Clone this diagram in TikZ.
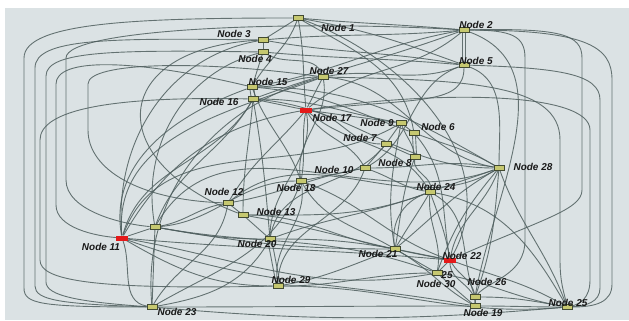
\documentclass[tikz,border=0pt]{standalone}
\usepackage{fontspec}
\setmainfont{Liberation Sans}
\usetikzlibrary{shapes.geometric}
\definecolor{bgc}{RGB}{219,226,228}
\definecolor{edgec}{RGB}{78,94,94}
\definecolor{boxfill}{RGB}{198,200,112}
\definecolor{boxline}{RGB}{66,74,50}
\definecolor{hot}{RGB}{228,26,26}
\pgfdeclarelayer{bg}
\pgfdeclarelayer{wires}
\pgfsetlayers{bg,wires,main}
\tikzset{
  box/.style={draw=boxline, fill=boxfill, line width=0.6bp, minimum width=10bp,
    minimum height=4.5bp, inner sep=0pt},
  hotnode/.style={trapezium, trapezium stretches body, shape border rotate=180,
    trapezium angle=60, fill=hot, minimum width=12bp, minimum height=5bp, inner sep=0pt},
  lab/.style={font=\fontsize{10}{10}\selectfont\bfseries\itshape, inner sep=0pt, text=black!90},
  ed/.style={draw=edgec, line width=0.9bp, opacity=0.85},
}
\begin{document}
\begin{tikzpicture}[x=1bp,y=1bp]
\useasboundingbox (0,0) rectangle (629,320);
\begin{pgfonlayer}{bg}
  \fill[white] (0,0) rectangle (629,320);
  \fill[bgc] (5,0) rectangle (629,312);
\end{pgfonlayer}

% vertices
\node[box] (n1) at (298,302) {};
\node[box] (n2) at (464,290) {};
\node[box] (n3) at (263,280) {};
\node[box] (n4) at (263,268) {};
\node[box] (n5) at (464,255) {};
\node[box] (n27) at (323,243) {};
\node[box] (n15) at (252,233) {};
\node[box] (n16) at (253,221) {};
\node[hotnode] (n17) at (306,210) {};
\node[box] (n9) at (401,197) {};
\node[box] (n6) at (414,187) {};
\node[box] (n7) at (386,176) {};
\node[box] (n8) at (415,163) {};
\node[box] (n10) at (365,152) {};
\node[box] (n28) at (499,152) {};
\node[box] (n18) at (301,139) {};
\node[box] (n24) at (430,128) {};
\node[box] (n12) at (228,117) {};
\node[box] (n13) at (243,105) {};
\node[box] (n14) at (155,93) {};
\node[hotnode] (n11) at (122,82) {};
\node[box] (n20) at (270,81) {};
\node[box] (n21) at (395,71) {};
\node[hotnode] (n22) at (450,60) {};
\node[box] (n30) at (437,47) {};
\node[box] (n26) at (475,23) {};
\node[box] (n19) at (475,14) {};
\node[box] (n29) at (278,34) {};
\node[box] (n23) at (152,13) {};
\node[box] (n25) at (567,13) {};

% vertex labels
\node[lab] (t1) at (338,292) {Node 1};
\node[lab] (t2) at (476,295) {Node 2};
\node[lab] (t3) at (234,286) {Node 3};
\node[lab] (t4) at (255,261) {Node 4};
\node[lab] (t5) at (476,259) {Node 5};
\node[lab] (t27) at (329,249) {Node 27};
\node[lab] (t15) at (268,238) {Node 15};
\node[lab] (t16) at (219,218) {Node 16};
\node[lab] (t17) at (332,202) {Node 17};
\node[lab] (t9) at (377,197) {Node 9};
\node[lab] (t6) at (438,193) {Node 6};
\node[lab] (t7) at (360,182) {Node 7};
\node[lab] (t8) at (395,157) {Node 8};
\node[lab] (t10) at (334,150) {Node 10};
\node[lab] (t28) at (533,153) {Node 28};
\node[lab] (t18) at (296,132) {Node 18};
\node[lab] (t24) at (436,133) {Node 24};
\node[lab] (t12) at (224,128) {Node 12};
\node[lab] (t13) at (276,108) {Node 13};
\node[lab] (t11) at (101,73) {Node 11};
\node[lab] (t20) at (257,76) {Node 20};
\node[lab] (t21) at (378,66) {Node 21};
\node[lab] (t22) at (462,64) {Node 22};
\node[lab] (t35) at (447,45) {25};
\node[lab] (t30) at (436,36) {Node 30};
\node[lab] (t26) at (487,38) {Node 26};
\node[lab] (t29) at (291,40) {Node 29};
\node[lab] (t19) at (483,7) {Node 19};
\node[lab] (t23) at (177,8) {Node 23};
\node[lab] (t25) at (568,17) {Node 25};

\begin{pgfonlayer}{wires}
% outer routes, left side
\draw[ed] (n1) .. controls (140,302) and (24,298) .. (24,262) -- (24,32) .. controls (24,16) and (40,13) .. (n23);
\draw[ed] (n3) .. controls (110,282) and (35,282) .. (35,252) -- (35,34) .. controls (35,20) and (60,16) .. (n23);
\draw[ed] (n4) .. controls (120,270) and (46,270) .. (46,244) -- (46,38) .. controls (46,24) and (80,18) .. (n23);
\draw[ed] (n15) .. controls (130,262) and (56,262) .. (56,236) -- (56,115) .. controls (56,92) and (96,84) .. (n11);
\draw[ed] (n2) .. controls (300,300) and (66,292) .. (66,262) -- (66,140) .. controls (66,110) and (120,96) .. (n14);
\draw[ed] (n27) .. controls (200,260) and (88,258) .. (88,236) -- (88,190) .. controls (88,150) and (140,120) .. (n12);
\draw[ed] (n16) .. controls (110,224) and (40,210) .. (40,180) -- (40,60) .. controls (40,40) and (90,30) .. (n29);
% outer routes, right side
\draw[ed] (n2) .. controls (560,292) and (582,286) .. (582,262) -- (582,130) .. controls (582,110) and (540,100) .. (n22);
\draw[ed] (n2) .. controls (590,290) and (612,272) .. (612,240) -- (612,36) .. controls (612,18) and (596,13) .. (n25);
\draw[ed] (n5) .. controls (560,252) and (600,246) .. (600,220) -- (600,32) .. controls (600,18) and (586,14) .. (n25);
\draw[ed] (n2) .. controls (512,290) and (525,284) .. (525,262) -- (525,80) .. controls (525,45) and (490,40) .. (n26);
\draw[ed] (n17) .. controls (440,230) and (590,228) .. (590,190) -- (590,40) .. controls (590,22) and (580,16) .. (n25);
\draw[ed] (n27) .. controls (470,240) and (560,236) .. (560,180) -- (560,60) .. controls (560,35) and (565,25) .. (n25);

% top group
\draw[ed] (n1) -- (n3);
\draw[ed] (n1) to[out=-80,in=95] (n17);
\draw[ed] (n1) to[out=-5,in=175] (n2);
\draw[ed] (n1) to[out=-10,in=160] (n5);
\draw[ed] (n1) to[out=-30,in=100] (n6);
\draw[ed] (n1) to[out=-110,in=60] (n15);
\draw[ed] (n1) to[out=-20,in=60] (n22);
\draw[ed] (n3) -- (n4);
\draw[ed] (n3) to[out=5,in=185] (n2);
\draw[ed] (n3) to[out=-10,in=170] (n5);
\draw[ed] (n3) to[out=190,in=95] (n11);
\draw[ed] (n3) .. controls (110,272) and (100,160) .. (n13);
\draw[ed] (n4) -- (n15);
\draw[ed] (n4) to[out=-5,in=175] (n5);
\draw[ed] (n4) to[out=-30,in=110] (n27);
\draw[ed] (n4) to[out=195,in=100] (n14);
\draw[ed] ([xshift=-1.5bp]n2.south) -- ([xshift=-1.5bp]n5.north);
\draw[ed] ([xshift=1.5bp]n2.south) -- ([xshift=1.5bp]n5.north);
\draw[ed] (n2) to[out=190,in=10] (n15);
\draw[ed] (n2) to[out=200,in=20] (n16);
\draw[ed] (n2) to[out=-140,in=40] (n17);
\draw[ed] (n2) to[out=-20,in=80] (n26);
\draw[ed] (n5) .. controls (464,215) and (420,222) .. (n17);
\draw[ed] (n5) to[out=-20,in=90] (n28);
\draw[ed] (n5) to[out=-160,in=30] (n10);
\draw[ed] (n27) -- (n17);
\draw[ed] (n27) to[out=10,in=-160] (n5);
\draw[ed] (n27) to[out=180,in=0] (n15);
\draw[ed] (n27) to[out=-5,in=170] (n28);
\draw[ed] (n27) to[out=-80,in=100] (n18);
\draw[ed] (n27) to[out=195,in=95] (n23);
\draw[ed] ([xshift=-2bp]n15.south) -- ([xshift=-2bp]n16.north);
\draw[ed] ([xshift=2bp]n15.south) -- ([xshift=2bp]n16.north);
\draw[ed] (n16) -- (n17);
\draw[ed] (n16) to[out=0,in=170] (n9);
\draw[ed] (n15) to[out=-5,in=160] (n6);
\draw[ed] (n15) to[out=0,in=150] (n28);
\draw[ed] (n16) to[out=-5,in=180] (n28);
\draw[ed] (n17) -- (n9);
\draw[ed] (n17) to[out=-10,in=180] (n7);
\draw[ed] (n17) to[out=-60,in=120] (n10);
\draw[ed] (n17) to[out=-100,in=80] (n18);
\draw[ed] (n17) to[out=-130,in=60] (n12);
\draw[ed] (n17) to[out=-170,in=60] (n11);
\draw[ed] (n17) to[out=-80,in=90] (n20);
\draw[ed] (n17) to[out=-40,in=120] (n24);
\draw[ed] (n16) to[out=-80,in=95] (n20);
\draw[ed] (n16) to[out=-95,in=90] (n13);
\draw[ed] (n15) to[out=-70,in=110] (n18);
\draw[ed] (n16) to[out=-120,in=70] (n14);
\draw[ed] (n15) to[out=-160,in=100] (n11);

% middle group
\draw[ed] (n9) -- (n6);
\draw[ed] (n9) -- (n7);
\draw[ed] ([xshift=-1.5bp]n6.south) -- ([xshift=-1.5bp]n8.north);
\draw[ed] ([xshift=1.5bp]n6.south) -- ([xshift=1.5bp]n8.north);
\draw[ed] (n7) -- (n8);
\draw[ed] (n7) -- (n10);
\draw[ed] (n8) to[out=-100,in=80] (n24);
\draw[ed] (n9) to[out=-70,in=100] (n8);
\draw[ed] (n6) to[out=-20,in=150] (n28);
\draw[ed] (n10) -- (n18);
\draw[ed] (n10) to[out=-20,in=170] (n24);
\draw[ed] (n8) to[out=-110,in=80] (n21);
\draw[ed] (n9) to[out=-100,in=100] (n21);
\draw[ed] (n6) to[out=-50,in=100] (n22);
\draw[ed] (n7) to[out=-130,in=80] (n20);
\draw[ed] (n10) to[out=-110,in=90] (n29);
\draw[ed] (n28) to[out=-160,in=20] (n24);
\draw[ed] (n28) to[out=-110,in=80] (n22);
\draw[ed] (n28) to[out=-95,in=70] (n26);
\draw[ed] (n28) to[out=-70,in=110] (n25);
\draw[ed] (n28) to[out=-130,in=70] (n30);
\draw[ed] (n28) to[out=170,in=0] (n10);
\draw[ed] (n28) to[out=-150,in=40] (n21);
\draw[ed] (n24) to[out=-120,in=60] (n21);
\draw[ed] (n24) to[out=-160,in=100] (n21);
\draw[ed] (n24) to[out=-70,in=100] (n22);
\draw[ed] (n24) to[out=-95,in=80] (n30);
\draw[ed] (n24) to[out=-30,in=110] (n26);
\draw[ed] (n24) to[out=-10,in=120] (n25);

% lower group
\draw[ed] (n21) -- (n22);
\draw[ed] (n21) -- (n30);
\draw[ed] (n21) to[out=180,in=-10] (n14);
\draw[ed] (n21) to[out=170,in=0] (n13);
\draw[ed] (n21) to[out=-160,in=10] (n29);
\draw[ed] (n21) to[out=-30,in=150] (n19);
\draw[ed] (n22) -- (n30);
\draw[ed] (n22) to[out=-60,in=100] (n26);
\draw[ed] (n22) to[out=-90,in=90] (n19);
\draw[ed] (n22) to[out=-20,in=150] (n25);
\draw[ed] (n22) to[out=175,in=-5] (n11);
\draw[ed] (n30) -- (n19);
\draw[ed] (n30) to[out=180,in=0] (n29);
\draw[ed] (n30) to[out=-10,in=170] (n25);
\draw[ed] (n30) to[out=190,in=-10] (n11);
\draw[ed] (n26) -- (n19);
\draw[ed] (n26) to[out=0,in=170] (n25);
\draw[ed] (n19) to[out=0,in=180] (n25);
\draw[ed] (n19) to[out=180,in=0] (n23);
\draw[ed] (n19) to[out=170,in=-20] (n11);
\draw[ed] ([xshift=-2bp]n29.north) -- ([xshift=-2bp]n20.south);
\draw[ed] ([xshift=2bp]n29.north) -- ([xshift=2bp]n20.south);
\draw[ed] (n29) to[out=0,in=185] (n25);
\draw[ed] (n29) to[out=180,in=-30] (n11);
\draw[ed] (n20) -- (n13);
\draw[ed] (n20) to[out=180,in=-10] (n14);
\draw[ed] (n20) to[out=0,in=170] (n21);
\draw[ed] (n20) to[out=20,in=-160] (n24);
\draw[ed] (n12) -- (n13);
\draw[ed] (n12) to[out=-170,in=10] (n14);
\draw[ed] (n12) to[out=40,in=210] (n28);
\draw[ed] (n12) to[out=10,in=-170] (n10);
\draw[ed] (n13) to[out=0,in=200] (n24);
\draw[ed] (n13) to[out=-10,in=170] (n22);
\draw[ed] (n14) -- (n11);
\draw[ed] (n14) -- (n23);
\draw[ed] (n14) to[out=5,in=180] (n18);
\draw[ed] (n14) to[out=-10,in=160] (n30);
\draw[ed] (n14) to[out=60,in=200] (n28);
\draw[ed] (n11) to[out=-70,in=170] (n23);
\draw[ed] (n11) to[out=95,in=-160] (n27);
\draw[ed] (n11) to[out=70,in=-150] (n9);
\draw[ed] (n11) to[out=75,in=-120] (n16);
\draw[ed] (n23) to[out=10,in=-120] (n20);
\draw[ed] (n23) to[out=30,in=-110] (n18);
\draw[ed] (n23) to[out=-5,in=185] (n25);
\draw[ed] (n23) to[out=60,in=-100] (n12);
\draw[ed] (n18) to[out=-80,in=100] (n29);
\draw[ed] (n18) to[out=-60,in=150] (n21);
\draw[ed] (n18) to[out=-20,in=160] (n22);
\end{pgfonlayer}
\end{tikzpicture}
\end{document}
